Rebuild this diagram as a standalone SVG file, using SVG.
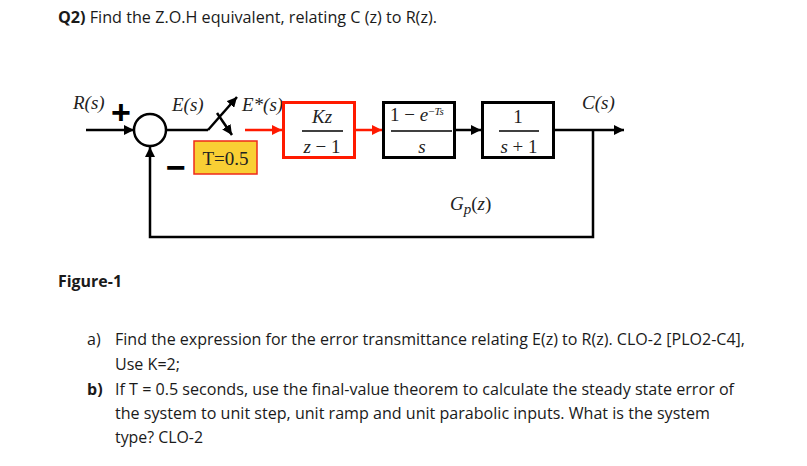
<svg xmlns="http://www.w3.org/2000/svg" width="807" height="466" viewBox="0 0 807 466">
<style>
.txt{font-family:"Open Sans","Noto Sans","Liberation Sans",sans-serif;font-size:16px;fill:#1a1a1a}
.b{font-weight:bold}
.m{font-family:"Liberation Serif","Times New Roman",serif;font-size:19px;fill:#222}
.i{font-style:italic}
.ln{stroke:#000;stroke-width:2.5;fill:none}
.rl{stroke:#ff1a00;stroke-width:2.5;fill:none}
.bar{stroke:#000;stroke-width:1.5}
.sym{font-family:"Liberation Sans",Arial,sans-serif;font-size:34px;font-weight:bold;fill:#000}
</style>
<defs>
<marker id="ab" markerUnits="userSpaceOnUse" markerWidth="11" markerHeight="10" refX="10" refY="5" orient="auto">
<path d="M0,0 L10,5 L0,10 Z" fill="#000"/>
</marker>
<marker id="ar" markerUnits="userSpaceOnUse" markerWidth="11" markerHeight="10" refX="10" refY="5" orient="auto">
<path d="M0,0 L10,5 L0,10 Z" fill="#ff1a00"/>
</marker>
</defs>
<rect width="807" height="466" fill="#fff"/>

<text class="txt" x="58" y="23" textLength="379" lengthAdjust="spacingAndGlyphs"><tspan class="b">Q2)</tspan> Find the Z.O.H equivalent, relating C (z) to R(z).</text>

<g id="connectors">
<line class="ln" x1="86" y1="130" x2="134" y2="130" marker-end="url(#ab)"/>
<line class="ln" x1="166" y1="130" x2="208" y2="130"/>
<line class="ln" x1="208" y1="130" x2="237" y2="97" marker-end="url(#ab)"/>
<line class="ln" x1="217" y1="113" x2="232" y2="135" marker-end="url(#ab)"/>
<line class="rl" x1="245" y1="130" x2="282" y2="130" marker-end="url(#ar)"/>
<line class="rl" x1="356" y1="130" x2="382" y2="130" marker-end="url(#ar)"/>
<line class="ln" x1="456" y1="130" x2="481" y2="130" marker-end="url(#ab)"/>
<line class="ln" x1="554" y1="130" x2="624" y2="130" marker-end="url(#ab)"/>
<polyline class="ln" points="593,130 593,237 150,237 150,147" marker-end="url(#ab)"/>
</g>

<g id="sum">
<circle cx="150" cy="130" r="16" fill="#fff" stroke="#000" stroke-width="2.5"/>
<text class="sym" x="121" y="124" text-anchor="middle">+</text>
<text class="sym" x="176" y="179" text-anchor="middle">−</text>
</g>

<g id="labels">
<text class="m i" x="73" y="109">R(s)</text>
<text class="m i" x="172" y="111">E(s)</text>
<text class="m i" x="242" y="111">E*(s)</text>
<text class="m i" x="582" y="109">C(s)</text>
<text class="m" x="450" y="210" font-size="21"><tspan class="i">G</tspan><tspan class="i" font-size="15" dy="4">p</tspan><tspan dy="-4">(</tspan><tspan class="i">z</tspan>)</text>
</g>

<g id="sampler">
<rect x="194" y="141" width="63" height="33" fill="#f9cf34" stroke="#ee2a1a" stroke-width="1.5"/>
<text class="m" x="225.5" y="165" text-anchor="middle">T=0.5</text>
</g>

<g id="controller">
<rect x="283.5" y="102.5" width="71" height="55" fill="#fff" stroke="#ff1a00" stroke-width="3"/>
<text class="m" x="322" y="123" text-anchor="middle"><tspan class="i">Kz</tspan></text>
<line class="bar" x1="302" y1="131" x2="343" y2="131"/>
<text class="m" x="322" y="153" text-anchor="middle"><tspan class="i">z</tspan> − 1</text>
</g>

<g id="zoh">
<rect x="383.5" y="102.5" width="71" height="55" fill="#fff" stroke="#000" stroke-width="3"/>
<text class="m" x="390" y="121">1 − <tspan class="i">e</tspan><tspan font-size="11" dy="-6">−</tspan><tspan class="i" font-size="11">Ts</tspan></text>
<line class="bar" x1="391" y1="131" x2="452" y2="131"/>
<text class="m i" x="422" y="153" text-anchor="middle">s</text>
</g>

<g id="plant">
<rect x="482.5" y="102.5" width="71" height="55" fill="#fff" stroke="#000" stroke-width="3"/>
<text class="m" x="518" y="123" text-anchor="middle">1</text>
<line class="bar" x1="499" y1="131" x2="539" y2="131"/>
<text class="m" x="519" y="153" text-anchor="middle"><tspan class="i">s</tspan> + 1</text>
</g>

<text class="txt b" x="58" y="287" textLength="64" lengthAdjust="spacingAndGlyphs">Figure-1</text>

<g id="questions">
<text class="txt" x="87" y="345">a)</text>
<text class="txt" x="115" y="345" textLength="630" lengthAdjust="spacingAndGlyphs">Find the expression for the error transmittance relating E(z) to R(z). CLO-2 [PLO2-C4],</text>
<text class="txt" x="115" y="370" textLength="65" lengthAdjust="spacingAndGlyphs">Use K=2;</text>
<text class="txt b" x="87" y="395">b)</text>
<text class="txt" x="115" y="395" textLength="619" lengthAdjust="spacingAndGlyphs">If T = 0.5 seconds, use the final-value theorem to calculate the steady state error of</text>
<text class="txt" x="115" y="419" textLength="595" lengthAdjust="spacingAndGlyphs">the system to unit step, unit ramp and unit parabolic inputs. What is the system</text>
<text class="txt" x="115" y="443" textLength="88" lengthAdjust="spacingAndGlyphs">type? CLO-2</text>
</g>
</svg>
